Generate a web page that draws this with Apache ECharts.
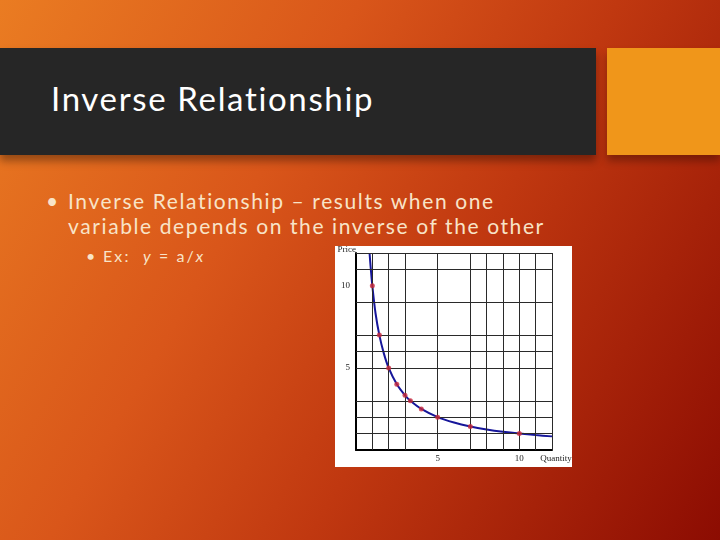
<!DOCTYPE html>
<html>
<head>
<meta charset="utf-8">
<script src="https://cdn.jsdelivr.net/npm/echarts@6/dist/echarts.min.js"></script>
<style>
  html, body { margin: 0; padding: 0; }
  body {
    width: 720px; height: 540px; position: relative; overflow: hidden;
    background: linear-gradient(120deg, #ea7c22 0%, #d9561a 35%, #c03810 60%, #8c0c02 100%);
    font-family: Lato, "Open Sans", sans-serif;
  }
  .titlebar {
    position: absolute; left: 0; top: 48px; width: 596px; height: 107px;
    background: #262626; box-shadow: 0 6px 8px rgba(0,0,0,0.35);
  }
  .accent {
    position: absolute; left: 607px; top: 48px; width: 113px; height: 107px;
    background: #f0961a; box-shadow: 0 6px 8px rgba(0,0,0,0.3);
  }
  .title {
    position: absolute; left: 51px; top: 78px; color: #fff;
    font-size: 33px; letter-spacing: 1.65px; line-height: 40px; white-space: nowrap;
  }
  .body {
    position: absolute; color: #f8e4c8; white-space: nowrap;
  }
  #chart {
    position: absolute; left: 335px; top: 246px; width: 237px; height: 221px;
    background: #fff;
  }
</style>
</head>
<body>
<div class="titlebar"></div>
<div class="accent"></div>
<div class="title">Inverse Relationship</div>
<div class="body" style="left:46px; top:188px; font-size:21px; line-height:25px; letter-spacing:1.6px;">
  <span style="position:absolute; left:0; top:0;">•</span>
  <div style="padding-left:22px;">Inverse Relationship – results when one<br>variable depends on the inverse of the other</div>
</div>
<div class="body" style="left:86px; top:246px; font-size:16px; line-height:20px; letter-spacing:2.1px;">
  <span style="position:absolute; left:0; top:0;">•</span>
  <span style="padding-left:17px;">Ex:&nbsp; <i>y</i> = a/<i>x</i></span>
</div>
<div id="chart"></div>
<script>
// points marked on the curve
var quantity = [1, 1.43, 2, 2.5, 3, 3.33, 4, 5, 7, 10];
var price = [10, 7, 5, 4, 3.33, 3, 2.5, 2, 1.43, 1];

// blue curve
var curveQuantity = [0.83, 0.9, 1, 1.2, 1.43, 1.7, 2, 2.5, 3, 3.33, 4, 5, 6, 7, 8, 9, 10, 11, 12];
var curvePrice = [12, 11.1, 10, 8.3, 7, 5.9, 5, 4, 3.33, 3, 2.5, 2, 1.67, 1.43, 1.25, 1.11, 1, 0.91, 0.83];

// the grid in the picture is not regular
var xGridLines = [1, 2, 3, 5, 7, 8, 9, 10, 11, 12];
var yGridLines = [1, 2, 3, 5, 6, 7, 9, 11, 12];
var tickLabels = [5, 10];

var myChart = echarts.init(document.getElementById('chart'));

var labelStyle = {
    fontFamily: 'Liberation Serif',
    fontSize: 9,
    color: '#222'
};

var option = {
    animation: false,
    backgroundColor: '#fff',
    grid: { left: 21, right: 20, top: 7, bottom: 17, outerBoundsMode: 'none', containLabel: false },
    xAxis: {
        type: 'value', min: 0, max: 12, interval: 5,
        name: 'Quantity',
        nameLocation: 'end', nameGap: 4,
        nameTextStyle: Object.assign({ align: 'center', verticalAlign: 'top', padding: [4, 0, 0, 0] }, labelStyle),
        axisLine: { lineStyle: { color: '#000', width: 2 } },
        axisTick: { show: false },
        splitLine: { show: false },
        axisLabel: Object.assign({
            margin: 4,
            showMaxLabel: false,
            formatter: function (v) { return tickLabels.indexOf(v) >= 0 ? String(v) : ''; }
        }, labelStyle)
    },
    yAxis: {
        type: 'value', min: 0, max: 12, interval: 5,
        name: 'Price',
        nameLocation: 'end', nameGap: 0,
        nameTextStyle: Object.assign({ align: 'right', verticalAlign: 'bottom', padding: [0, 0, -1, 0] }, labelStyle),
        axisLine: { lineStyle: { color: '#000', width: 2 } },
        axisTick: { show: false },
        splitLine: { show: false },
        axisLabel: Object.assign({
            margin: 6,
            showMaxLabel: false,
            formatter: function (v) { return tickLabels.indexOf(v) >= 0 ? String(v) : ''; }
        }, labelStyle)
    },
    series: [
        {
            name: 'grid',
            type: 'line',
            data: [],
            silent: true,
            markLine: {
                silent: true,
                symbol: 'none',
                label: { show: false },
                lineStyle: { color: '#2a2a2a', width: 1, type: 'solid' },
                data: xGridLines.map(function (v) { return { xAxis: v }; })
                    .concat(yGridLines.map(function (v) { return { yAxis: v }; }))
            }
        },
        {
            name: 'curve',
            type: 'line',
            data: curveQuantity.map(function (q, i) { return [q, curvePrice[i]]; }),
            smooth: 0.3,
            showSymbol: false,
            clip: true,
            lineStyle: { color: '#16169a', width: 2 }
        },
        {
            name: 'points',
            type: 'scatter',
            data: quantity.map(function (q, i) { return [q, price[i]]; }),
            symbolSize: 5,
            itemStyle: { color: '#c8283c' },
            z: 5
        }
    ]
};

myChart.setOption(option);
</script>
</body>
</html>
